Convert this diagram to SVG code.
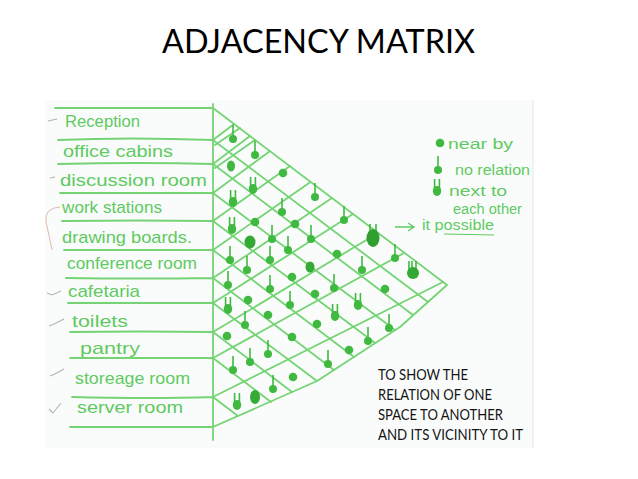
<svg xmlns="http://www.w3.org/2000/svg" width="638" height="479" viewBox="0 0 638 479">
<style>
.ln{stroke:#74d474;stroke-width:1.8;fill:none;stroke-linecap:round;stroke-linejoin:round}
.hw{font-family:"Liberation Sans",Arial,sans-serif;font-size:17px;fill:#5fca5f}
.lg{font-family:"Liberation Sans",Arial,sans-serif;font-size:14px;fill:#5fca5f}
.ttl{font-family:Lato,"Open Sans",sans-serif;font-size:32px;fill:#000}
.note{font-family:Lato,"Open Sans",sans-serif;font-size:15.5px;fill:#141414}
.tick{stroke:#9a9a9a;stroke-width:1.1;fill:none;opacity:.75}
.sym{fill:#3fb93f}
.stk{stroke:#3fb93f;stroke-width:1.6;fill:none}
</style>
<defs>
<g id="d"><circle class="sym" r="4.3"/></g>
<g id="s"><path class="stk" d="M0,-3V-14"/><circle class="sym" r="4"/></g>
<g id="n"><path class="stk" d="M-2.4,-2V-12M2.4,-2V-12"/><ellipse class="sym" rx="4.2" ry="5"/></g>
</defs>
<rect width="638" height="479" fill="#fff"/>
<g id="photo">
<rect x="45" y="100" width="488" height="348" fill="#fafcfc"/>
<line x1="533" y1="100" x2="533" y2="448" stroke="#e4e8e8" stroke-width="1"/>
</g>
<g id="title"><text class="ttl" x="162" y="53" textLength="313" lengthAdjust="spacingAndGlyphs">ADJACENCY MATRIX</text></g>
<g id="marks">
<path class="tick" d="M48,121l9,-2"/>
<path class="tick" d="M50,178l5,-1"/>
<path class="tick" d="M47,293l5,2l9,-4"/>
<path class="tick" d="M49,326l5,-2l10,-5"/>
<path class="tick" d="M50,376l5,-2l9,-5"/>
<path class="tick" d="M49,409l4,4l8,-10"/>
<path d="M60,207Q44,208 46,222Q49,235 52,250" stroke="#d4ab95" stroke-width="1" fill="none" opacity=".8"/>
</g>
<g id="rows">
<path class="ln" d="M55,108H213M58,140Q130,137 213,140M58,164Q140,162 213,164M60,193H213M62,221Q140,220 213,221M64,250H213M66,278Q140,279 213,278M68,303H213M70,332Q140,331 213,332M70,358H213M72,397Q150,399 213,397M70,427H213M213,104V440"/>
</g>
<g id="labels">
<text class="hw" x="65" y="127" textLength="75" lengthAdjust="spacingAndGlyphs">Reception</text>
<text class="hw" x="63" y="157" textLength="110" lengthAdjust="spacingAndGlyphs">office cabins</text>
<text class="hw" x="60" y="186" textLength="147" lengthAdjust="spacingAndGlyphs">discussion room</text>
<text class="hw" x="62" y="213" textLength="100" lengthAdjust="spacingAndGlyphs">work stations</text>
<text class="hw" x="62" y="243" textLength="130" lengthAdjust="spacingAndGlyphs">drawing boards.</text>
<text class="hw" x="67" y="269" textLength="130" lengthAdjust="spacingAndGlyphs">conference room</text>
<text class="hw" x="68" y="297" textLength="72" lengthAdjust="spacingAndGlyphs">cafetaria</text>
<text class="hw" x="72" y="327" textLength="56" lengthAdjust="spacingAndGlyphs">toilets</text>
<text class="hw" x="80" y="354" textLength="60" lengthAdjust="spacingAndGlyphs">pantry</text>
<text class="hw" x="75" y="384" textLength="115" lengthAdjust="spacingAndGlyphs">storeage room</text>
<text class="hw" x="77" y="413" textLength="106" lengthAdjust="spacingAndGlyphs">server room</text>
</g>
<g id="connectors">
<path class="ln" d="M213,108L447,285L400,327L317,381L213,427"/>
<path class="ln" d="M213,140L428,302M213,164L413,315M213,193L395,330M213,221L375,343M213,250L354,357M213,278L334,370M213,303L317,381M213,332L292,392M213,358L271,402M213,397L238,416"/>
<path class="ln" d="M213,140L234,124M213,164L250,136M213,193L270,151M213,221L290,166M213,250L310.5,182M213,278L332,198M213,303L353,214M213,332L378,233M213,358L404,253M213,397L443,282"/>
<path class="ln" d="M215,145L240,128M215,168L255,140"/>
</g>
<g id="symbols">
<use href="#s" x="233" y="139"/>
<use href="#s" x="255" y="155"/>
<ellipse class="sym" cx="231" cy="166" rx="4" ry="5.5" fill="#2fa52f"/>
<use href="#d" x="283" y="173"/>
<use href="#n" x="253" y="189"/>
<use href="#n" x="233" y="202"/>
<use href="#s" x="315" y="197"/>
<use href="#s" x="282" y="212"/>
<use href="#s" x="344" y="220"/>
<g transform="translate(373,238)"><path class="stk" d="M-3,-4V-14M3,-4V-14"/><ellipse rx="6.5" ry="9" fill="#2f9f2f"/></g>
<use href="#n" x="232" y="229"/>
<use href="#d" x="255" y="222"/>
<use href="#d" x="295" y="224"/>
<ellipse cx="250" cy="242" rx="5.5" ry="6.5" fill="#33a833"/>
<use href="#s" x="272" y="239"/>
<use href="#s" x="311" y="239"/>
<use href="#s" x="288" y="250"/>
<use href="#d" x="337" y="254"/>
<use href="#s" x="395" y="258"/>
<use href="#s" x="230" y="260"/>
<use href="#s" x="270" y="260"/>
<ellipse cx="310" cy="267" rx="4.5" ry="5.5" fill="#35ab35"/>
<use href="#s" x="362" y="270"/>
<g transform="translate(413,273)"><path class="stk" d="M-4,-3V-12M-1,-3V-12M3,-3V-12"/><ellipse rx="6" ry="6" fill="#33a833"/></g>
<use href="#s" x="247" y="270"/>
<use href="#d" x="292" y="277"/>
<use href="#s" x="228" y="285"/>
<use href="#s" x="270" y="289"/>
<use href="#s" x="334" y="288"/>
<use href="#d" x="385" y="289"/>
<use href="#d" x="248" y="300"/>
<use href="#d" x="315" y="294"/>
<use href="#s" x="290" y="305"/>
<use href="#n" x="358" y="305"/>
<use href="#n" x="228" y="309"/>
<use href="#d" x="268" y="315"/>
<use href="#n" x="335" y="316"/>
<use href="#s" x="245" y="325"/>
<use href="#d" x="317" y="324"/>
<use href="#s" x="389" y="328"/>
<use href="#d" x="227" y="336"/>
<use href="#d" x="292" y="337"/>
<use href="#s" x="368" y="341"/>
<use href="#s" x="268" y="354"/>
<use href="#d" x="349" y="350"/>
<use href="#s" x="250" y="362"/>
<use href="#s" x="328" y="364"/>
<use href="#s" x="233" y="370"/>
<use href="#d" x="293" y="377"/>
<use href="#s" x="273" y="389"/>
<ellipse cx="255" cy="397" rx="5" ry="7" fill="#35ab35"/>
<use href="#n" x="237" y="405"/>
</g>
<g id="legend">
<use href="#d" x="440" y="143"/>
<text class="lg" x="448" y="149" textLength="65" lengthAdjust="spacingAndGlyphs">near by</text>
<use href="#s" x="438" y="170"/>
<text class="lg" x="455" y="175" textLength="75" lengthAdjust="spacingAndGlyphs">no relation</text>
<use href="#n" x="437" y="191"/>
<text class="lg" x="449" y="196" textLength="58" lengthAdjust="spacingAndGlyphs">next to</text>
<text class="lg" x="453" y="214" textLength="69" lengthAdjust="spacingAndGlyphs">each other</text>
<path d="M395,227H413M408,223L414,227L408,231" stroke="#5fca5f" stroke-width="1.3" fill="none"/>
<text class="lg" x="422" y="230" textLength="72" lengthAdjust="spacingAndGlyphs">it possible</text>
<path d="M444,234L494,235" stroke="#5fca5f" stroke-width="1.2" fill="none"/>
</g>
<g id="note">
<text class="note" x="378" y="380" textLength="90" lengthAdjust="spacingAndGlyphs">TO SHOW THE</text>
<text class="note" x="378" y="400" textLength="114" lengthAdjust="spacingAndGlyphs">RELATION OF ONE</text>
<text class="note" x="378" y="420" textLength="125" lengthAdjust="spacingAndGlyphs">SPACE TO ANOTHER</text>
<text class="note" x="378" y="440" textLength="145" lengthAdjust="spacingAndGlyphs">AND ITS VICINITY TO IT</text>
</g>
</svg>
